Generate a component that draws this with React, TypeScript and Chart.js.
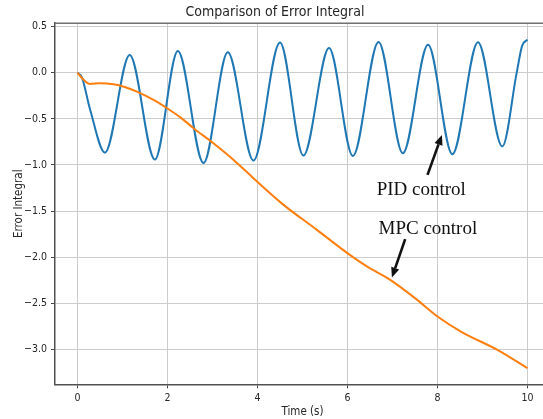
import React, { useEffect, useRef } from 'react';
import { Chart, registerables } from 'chart.js';

Chart.register(...registerables);

// ---- data ----
const pidTimes = [0, 0.1, 0.28, 0.61, 1.16, 1.72, 2.23, 2.8, 3.34, 3.91, 4.5, 5.02, 5.59, 6.12, 6.69, 7.23, 7.79, 8.33, 8.9, 9.44, 9.76, 9.88, 10.0];
const pidValues = [0, -0.055, -0.4, -0.867, 0.192, -0.942, 0.235, -0.98, 0.221, -0.953, 0.327, -0.899, 0.266, -0.903, 0.333, -0.873, 0.302, -0.884, 0.33, -0.8, 0.0, 0.29, 0.357];

const mpcTimes = [0, 0.1, 0.27, 0.5, 0.8, 1.05, 1.32, 1.69, 1.99, 2.3, 2.58, 3.02, 3.47, 3.91, 4.58, 5.32, 6.02, 6.43, 6.95, 7.5, 8.0, 8.52, 9.36, 10.0];
const mpcValues = [0, -0.06, -0.122, -0.115, -0.126, -0.155, -0.206, -0.296, -0.386, -0.49, -0.602, -0.765, -0.946, -1.144, -1.433, -1.704, -1.964, -2.1, -2.246, -2.444, -2.643, -2.806, -3.012, -3.203];

const xTickValues = [0, 2, 4, 6, 8, 10];
const yTickValues = [-3, -2.5, -2, -1.5, -1, -0.5, 0, 0.5];

const annotationLabels = ['PID control', 'MPC control'];
const annotationTextX = [6.649, 6.689];
const annotationTextY = [-1.33, -1.744];
const arrowTailX = [7.778, 7.282];
const arrowTailY = [-1.108, -1.805];
const arrowTipX = [8.098, 6.987];
const arrowTipY = [-0.675, -2.221];

const SANS = "'Liberation Sans Narrow', 'DejaVu Sans Condensed', 'DejaVu Sans', sans-serif";
const SERIF = "'Liberation Serif', 'Times New Roman', serif";

const framePlugin = {
  id: 'frameAndNotes',
  beforeDatasetsDraw(chart: any) {
    const { ctx, chartArea } = chart;
    ctx.save();
    ctx.strokeStyle = '#707070';
    ctx.lineWidth = 1.5;
    ctx.beginPath();
    ctx.moveTo(chartArea.left, chartArea.top);
    ctx.lineTo(chartArea.right, chartArea.top);
    ctx.stroke();
    ctx.restore();
  },
  afterDatasetsDraw(chart: any) {
    const { ctx } = chart;
    const xs = chart.scales.x;
    const ys = chart.scales.y;
    ctx.save();
    ctx.fillStyle = '#111';
    ctx.strokeStyle = '#111';
    ctx.font = `19px ${SERIF}`;
    ctx.textAlign = 'left';
    ctx.textBaseline = 'alphabetic';
    annotationLabels.forEach((label, i) => {
      ctx.fillText(label, xs.getPixelForValue(annotationTextX[i]), ys.getPixelForValue(annotationTextY[i]));
      const x0 = xs.getPixelForValue(arrowTailX[i]);
      const y0 = ys.getPixelForValue(arrowTailY[i]);
      const x1 = xs.getPixelForValue(arrowTipX[i]);
      const y1 = ys.getPixelForValue(arrowTipY[i]);
      const ang = Math.atan2(y1 - y0, x1 - x0);
      const headLen = 10;
      const headHalf = 4.2;
      const bx = x1 - headLen * Math.cos(ang);
      const by = y1 - headLen * Math.sin(ang);
      ctx.lineWidth = 2.6;
      ctx.beginPath();
      ctx.moveTo(x0, y0);
      ctx.lineTo(bx, by);
      ctx.stroke();
      ctx.beginPath();
      ctx.moveTo(x1, y1);
      ctx.lineTo(bx + headHalf * Math.sin(ang), by - headHalf * Math.cos(ang));
      ctx.lineTo(bx - headHalf * Math.sin(ang), by + headHalf * Math.cos(ang));
      ctx.closePath();
      ctx.fill();
    });
    ctx.restore();
  },
};

function fmtY(v: number) {
  const s = Math.abs(v).toFixed(1);
  return v < 0 ? '\u2212' + s : s;
}

export default function App() {
  const canvasRef = useRef<HTMLCanvasElement | null>(null);

  useEffect(() => {
    const canvas = canvasRef.current;
    if (!canvas) return;
    const chart = new Chart(canvas, {
      type: 'line',
      data: {
        datasets: [
          {
            label: 'MPC control',
            data: mpcTimes.map((x, i) => ({ x, y: mpcValues[i] })),
            borderColor: '#ff7f0e',
            borderWidth: 2,
            pointRadius: 0,
            fill: false,
            cubicInterpolationMode: 'monotone',
          },
          {
            label: 'PID control',
            data: pidTimes.map((x, i) => ({ x, y: pidValues[i] })),
            borderColor: '#1f77b4',
            borderWidth: 2,
            pointRadius: 0,
            fill: false,
            cubicInterpolationMode: 'monotone',
          },
        ],
      },
      options: {
        animation: false,
        responsive: false,
        devicePixelRatio: 1,
        layout: { padding: { left: 0, right: 10, top: 0, bottom: 0 } },
        plugins: {
          legend: { display: false },
          tooltip: { enabled: false },
          title: {
            display: true,
            text: 'Comparison of Error Integral',
            color: '#262626',
            font: { family: SANS, size: 14, weight: 'normal', lineHeight: 1.2 },
            padding: { top: 4.1, bottom: 2.3 },
          },
        },
        scales: {
          x: {
            type: 'linear',
            min: -0.5,
            max: 10.5,
            afterBuildTicks: (s: any) => {
              s.ticks = xTickValues.map((v) => ({ value: v }));
            },
            afterFit: (s: any) => {
              s.height = 34.7;
            },
            ticks: {
              color: '#262626',
              font: { family: SANS, size: 10.5 },
              padding: 4,
              maxRotation: 0,
              autoSkip: false,
              callback: (v: any) => String(v),
            },
            grid: { color: '#cccccc', lineWidth: 1, tickColor: '#444', tickLength: 4, tickWidth: 1 },
            border: { color: '#505050', width: 1.5 },
            title: {
              display: true,
              text: 'Time (s)',
              color: '#262626',
              font: { family: SANS, size: 11.5, lineHeight: 1.2 },
              padding: { top: 0, bottom: 0.4 },
            },
          },
          y: {
            type: 'linear',
            min: -3.378,
            max: 0.536,
            afterBuildTicks: (s: any) => {
              s.ticks = yTickValues.map((v) => ({ value: v }));
            },
            afterFit: (s: any) => {
              s.width = 55;
            },
            ticks: {
              color: '#262626',
              font: { family: SANS, size: 10.5 },
              padding: 4,
              callback: (v: any) => fmtY(Number(v)),
            },
            grid: { color: '#cccccc', lineWidth: 1, tickColor: '#444', tickLength: 4, tickWidth: 1 },
            border: { color: '#505050', width: 1.5 },
            title: {
              display: true,
              text: 'Error Integral',
              color: '#262626',
              font: { family: SANS, size: 11.5, lineHeight: 1.2 },
              padding: { top: 12.4, bottom: 0 },
            },
          },
        },
      },
      plugins: [framePlugin],
    } as any);
    return () => chart.destroy();
  }, []);

  return (
    <div style={{ position: 'fixed', left: 0, top: 0, width: 543, height: 419, overflow: 'hidden', background: '#fff' }}>
      <canvas ref={canvasRef} width={560} height={419} style={{ display: 'block', width: 560, height: 419 }} />
    </div>
  );
}
